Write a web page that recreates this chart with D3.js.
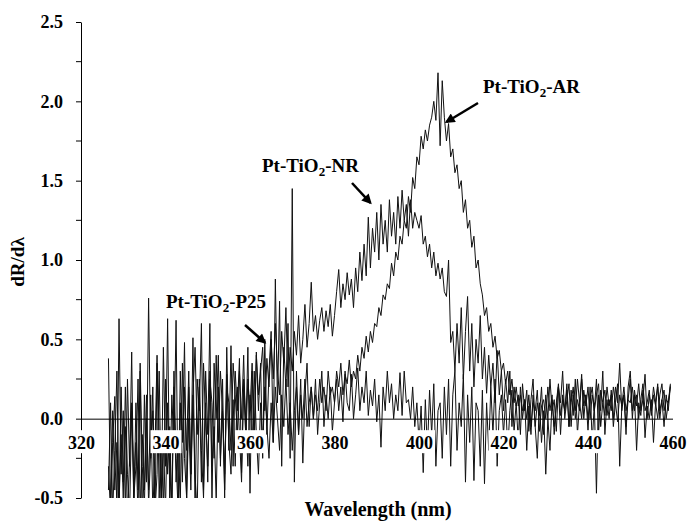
<!DOCTYPE html>
<html>
<head>
<meta charset="utf-8">
<script src="https://cdn.jsdelivr.net/npm/d3@7"></script>
<style>
  body { margin: 0; background: #fff; }
  svg text { font-family: "Liberation Serif", "Times New Roman", serif; font-weight: bold; fill: #000; }
</style>
</head>
<body>
<svg id="chart"></svg>
<script>
// spectra are sampled every 0.5 nm from their start wavelength
var step = 0.5;

var p25Start = 326.5;
var p25Values = [
  0.38, -0.55, -0.15, 0.14, -0.62, 0.63, -0.35, 0.05, -0.58, 0.25, -0.3, 0.42, -0.6, 0.1, -0.45, 0.3, -0.7, 0.15,
  -0.4, 0.76, -0.25, 0.2, -0.65, 0.35, -0.1, -0.55, 0.45, -0.3,
  0.63, -0.5, 0.15, -0.2, 0.62, -0.6, 0.3, -0.15, 0.48, -0.52,
  0.2, -0.35, 0.51, -0.6, 0.25, 0.05, 0.6, -0.45, 0.3, -0.1,
  0.6, -0.55, 0.35, 0.0, 0.4, -0.3, 0.25, -0.5, 0.45, -0.2,
  0.46, -0.3, 0.3, 0.05, 0.38, -0.34, 0.2, -0.1, 0.45, -0.47,
  0.3, -0.2, 0.42, 0.05, 0.35, -0.25, 0.5, -0.1, 0.3, 0.55,
  -0.15, 0.88, 0.1, 0.74, -0.3, 0.45, 0.2, 0.6, -0.25, 1.45,
  -0.4, 0.3, -0.1, 0.25, -0.28, 0.15, 0.35, -0.05, 0.2, 0.0,
  0.25, -0.1, 0.1, 0.3, -0.05, 0.15, 0.0, 0.2, -0.08, 0.1,
  0.25, 0.05, 0.2, -0.02, 0.3, 0.1, 0.05, 0.28, 0.0, 0.15,
  0.32, 0.05, 0.2, 0.1, 0.3, 0.02, 0.18, 0.08, 0.25, -0.02,
  0.15, -0.18, 0.2, 0.05, 0.3, 0.1, 0.22, 0.0, 0.15, 0.05,
  0.29, 0.02, 0.3, 0.1, 0.12, 0.0, 0.2, -0.05, 0.1, -0.15,
  0.08, -0.34, 0.12, -0.2, 0.18, -0.1, 0.22, -0.3, 0.05, 0.1,
  -0.25, 0.2, -0.1, 0.25, -0.3, 0.15, 0.3, -0.2, 0.1, -0.05,
  0.28, -0.4, 0.15, -0.15, 0.2, -0.39, 0.1, 0.05, -0.3, 0.18,
  -0.41, 0.1, -0.2, 0.2, -0.1, 0.25, -0.3, 0.05, 0.15, -0.1,
  0.12, -0.2, 0.05, 0.18, -0.08, 0.1, -0.15, 0.2, 0.0, 0.12,
  -0.2, 0.08, -0.1, 0.15, -0.05, -0.25, 0.1, -0.15, 0.05, -0.35,
  0.0, -0.2, 0.12, -0.05, 0.08, 0.2, -0.1, 0.15, 0.05, 0.22,
  -0.05, 0.18, 0.02, 0.25, -0.1, 0.1, 0.28, 0.0, 0.15, -0.08,
  0.2, -0.15, 0.1, -0.47, 0.15, 0.05, 0.3, -0.1, 0.12, 0.0,
  0.18, -0.05, 0.1, 0.22, -0.3, 0.08, 0.15, -0.1, 0.2, 0.3,
  0.05, 0.15, -0.2, 0.1, 0.02, 0.18, -0.12, 0.08, 0.0, 0.12,
  -0.15, 0.1, 0.22, 0.0, 0.12, -0.05, 0.15, 0.05, 0.21
];

var nrStart = 326.5;
var nrValues = [
  -0.45, 0.1, -0.6, -0.2, 0.3, -0.55, -0.1, -0.5, 0.2, -0.35,
  -0.6, 0.05, -0.4, -0.15, -0.62, 0.35, -0.3, -0.55, 0.0, -0.45,
  0.15, -0.6, -0.2, 0.4, -0.5, -0.1, -0.58, 0.25, -0.35, -0.05,
  -0.55, 0.3, -0.25, -0.6, 0.1, -0.4, 0.2,
  -0.2, 0.3, -0.35, 0.15, 0.45, -0.1, 0.2, -0.4, 0.35, 0.0,
  -0.3, 0.25, 0.1, -0.25, 0.4, -0.15, 0.3, 0.05, -0.35, 0.2,
  0.1, -0.2, 0.35, 0.15, -0.1, 0.3, 0.0, 0.4, -0.15, 0.25,
  0.05, 0.35, -0.1, 0.4, 0.15, 0.3, 0.45, 0.05, 0.38, 0.2,
  0.5, 0.25, 0.6, 0.3, 0.15, 0.55, 0.35, 0.7, 0.2, 0.45,
  0.3, 0.55, 0.4, 0.65, 0.35, 0.5, 0.72, 0.45, 0.6, 0.86,
  0.55, 0.65, 0.5, 0.62, 0.7, 0.55, 0.68, 0.58, 0.72, 0.52,
  0.65, 0.8, 0.94, 0.7, 0.85, 0.75, 0.92, 0.78, 0.88, 0.7,
  0.95, 0.8, 1.05, 0.87, 1.1, 0.9, 1.27, 0.95, 1.2, 1.05,
  1.3, 1.0, 1.35, 1.1, 1.25, 1.05, 1.38, 1.15, 1.3, 1.1,
  1.4, 1.2, 1.44, 1.25, 1.35, 1.15, 1.38, 1.2, 1.3, 1.25,
  1.2, 1.28, 1.1, 1.15, 1.02, 1.1, 0.95, 1.05, 0.9, 0.98,
  0.88, 0.95, 0.8, 0.77, 1.0, 0.48, 0.55, 0.3, 0.6, 0.35,
  0.7, 0.25, 0.55, 0.77, 0.3, 0.6, 0.2, 0.5, 0.35, 0.65,
  0.25, 0.45, 0.16, 0.4, 0.2, 0.35, 0.1, 0.43, 0.15, 0.3,
  0.05, 0.25, 0.1, 0.3, -0.05, 0.2, 0.08, 0.15, -0.1, 0.22,
  0.05, 0.18, -0.08, 0.12, 0.25, -0.05, 0.1, 0.02, 0.2, -0.1,
  0.15, 0.0, 0.25, 0.05, 0.12, -0.08, 0.2, 0.1, 0.3, 0.0,
  0.12, 0.22, -0.05, 0.15, 0.05, 0.25, 0.1, 0.0, 0.18, 0.08,
  0.2, 0.0, 0.15, 0.05, 0.25, -0.1, 0.18, 0.1, 0.02, 0.2,
  0.08, 0.15, 0.0, 0.2, 0.1, 0.35, 0.05, 0.15, -0.05, 0.12,
  0.25, 0.0, 0.18, 0.08, 0.22, 0.05, 0.12, 0.28, 0.0, 0.15,
  0.05, 0.2, 0.1, 0.0, 0.15, 0.22, 0.05, 0.12, 0.1, 0.2
];

var arStart = 326.5;
var arValues = [
  -0.3, -0.6, 0.05, -0.45, -0.15, -0.58, 0.2, -0.4, -0.05, -0.62,
  -0.25, 0.1, -0.5, -0.3, 0.25, -0.6, -0.1, -0.45, 0.15, -0.55,
  -0.2, 0.05, -0.6, -0.35, 0.3, -0.5, -0.15, -0.58, 0.1, -0.3,
  -0.6, 0.2, -0.4, -0.1, -0.55, 0.35, -0.25, -0.5, 0.0, -0.45,
  0.15, -0.35, -0.6, 0.25, -0.2, -0.5, 0.1, -0.4, 0.3, -0.3,
  -0.05, -0.52, 0.2, -0.25, 0.05, -0.45, 0.28, -0.15, -0.35, 0.12,
  -0.3, 0.2, -0.1, -0.4, 0.25, 0.0, -0.3, 0.15, -0.2, 0.3,
  -0.1, -0.35, 0.1, -0.2, 0.2, -0.05, -0.25,
  0.1, -0.15, 0.2, 0.0, -0.2, 0.15, -0.05, 0.25, -0.1, 0.1,
  -0.2, 0.05, 0.2, -0.1, 0.15, 0.0, 0.25, -0.05, 0.1, 0.2,
  0.0, 0.15, 0.05, 0.25, 0.1, 0.2, 0.05, 0.3, 0.15, 0.2,
  0.1, 0.3, 0.2, 0.35, 0.15, 0.28, 0.22, 0.37, 0.2, 0.3,
  0.25, 0.4, 0.3, 0.45, 0.38, 0.52, 0.42, 0.55, 0.48, 0.6,
  0.58, 0.7, 0.65, 0.78, 0.75, 0.85, 0.82, 0.98, 0.9, 1.05,
  1.0, 1.15, 1.1, 1.25, 1.2, 1.4, 1.3, 1.52, 1.45, 1.65,
  1.6, 1.78, 1.7, 1.82, 1.75, 1.85, 1.9, 2.0, 1.88, 2.18,
  1.72, 2.13, 1.9, 1.75, 1.86, 1.65, 1.7, 1.55, 1.6, 1.45,
  1.5, 1.3, 1.38, 1.2, 1.25, 1.08, 1.15, 0.95, 1.0, 0.85,
  0.78, 0.65, 0.7, 0.55, 0.6, 0.45, 0.52, 0.38, 0.43, 0.3,
  0.35, 0.22, 0.3, 0.15, 0.25, 0.1, 0.2, 0.08, 0.15, 0.05,
  0.12, 0.0, 0.15, -0.05, 0.1, 0.05, 0.18, -0.08, 0.08, 0.12,
  0.0, 0.2, 0.05, 0.15, -0.1, 0.1, 0.22, 0.02, 0.12, 0.05,
  0.18, -0.05, 0.1, 0.2, 0.0, 0.12, 0.05, 0.25, 0.08, 0.15,
  0.0, 0.12, 0.2, 0.05, 0.15, 0.22, -0.05, 0.1, 0.18, 0.02,
  0.12, 0.05, 0.2, 0.1, -0.02, 0.15, 0.08, 0.2, 0.05, 0.12,
  0.1, 0.2, 0.05, 0.15, 0.0, 0.12, 0.22, 0.05, 0.1, 0.18,
  0.02, 0.15, 0.08, 0.2, 0.05, 0.12, 0.18, 0.0, 0.1, 0.22
];

var xTicks = [320, 340, 360, 380, 400, 420, 440, 460];
var yTicks = [-0.5, 0.0, 0.5, 1.0, 1.5, 2.0, 2.5];
var yMinorTicks = [-0.25, 0.25, 0.75, 1.25, 1.75, 2.25];

var labels = [
  { name: 'P25', at: 363.5, v: 0.48, tx: 166, ty: 308, ax: [245, 325] },
  { name: 'NR', at: 388.5, v: 1.36, tx: 262, ty: 172, ax: [352, 183] },
  { name: 'AR', at: 406.5, v: 1.87, tx: 483, ty: 93, ax: [478, 103] }
];

var width = 688, height = 522;
var svg = d3.select('#chart')
    .attr('width', width)
    .attr('height', height);

var xScale = d3.scaleLinear().domain([320, 460]).range([81, 672.5]);
var yScale = d3.scaleLinear().domain([-0.5, 2.5]).range([498, 22]);

svg.append('defs').append('clipPath')
    .attr('id', 'plotClip')
    .append('rect')
    .attr('x', 81).attr('y', 22)
    .attr('width', 672.5 - 81).attr('height', 498 - 22);

var marker = svg.select('defs').append('marker')
    .attr('id', 'arrowHead')
    .attr('viewBox', '0 0 10 10')
    .attr('refX', 8).attr('refY', 5)
    .attr('markerWidth', 4.5).attr('markerHeight', 4)
    .attr('markerUnits', 'strokeWidth')
    .attr('orient', 'auto');
marker.append('path').attr('d', 'M0,0 L10,5 L0,10 z').attr('fill', '#000');

// spectra
var series = [
  { start: p25Start, values: p25Values },
  { start: nrStart, values: nrValues },
  { start: arStart, values: arValues }
];
var plot = svg.append('g').attr('clip-path', 'url(#plotClip)');
series.forEach(function (s) {
  var line = d3.line()
      .x(function (d, i) { return xScale(s.start + i * step); })
      .y(function (d) { return yScale(d); });
  plot.append('path')
      .datum(s.values)
      .attr('d', line)
      .attr('fill', 'none')
      .attr('stroke', '#111')
      .attr('stroke-width', 1);
});

// y axis
var fmt = d3.format('.1f');
var yAxis = svg.append('g')
    .attr('transform', 'translate(81,0)')
    .call(d3.axisLeft(yScale).tickValues(yTicks)
        .tickFormat(function (d) { return fmt(d).replace('\u2212', '-'); })
        .tickSize(5).tickSizeOuter(0).tickPadding(13));
yAxis.selectAll('text').style('font-size', '18px');
yAxis.append('g').selectAll('line')
    .data(yMinorTicks)
    .enter().append('line')
    .attr('x1', -5).attr('x2', 0)
    .attr('y1', function (d) { return yScale(d); })
    .attr('y2', function (d) { return yScale(d); })
    .attr('stroke', '#000');
yAxis.selectAll('path, line').attr('stroke', '#000');

// x axis along zero, labels boxed in white over the data
var xAxis = svg.append('g')
    .attr('transform', 'translate(0,' + yScale(0) + ')')
    .call(d3.axisBottom(xScale).tickValues(xTicks).tickSize(0).tickSizeOuter(0).tickPadding(18));
xAxis.select('.domain').attr('stroke', '#000');
xAxis.selectAll('.tick text').style('font-size', '18px');
xAxis.selectAll('.tick').each(function () {
  var tick = d3.select(this);
  var box = tick.select('text').node().getBBox();
  tick.insert('rect', 'text')
      .attr('x', box.x - 2).attr('y', 11.5)
      .attr('width', box.width + 4).attr('height', 23)
      .attr('fill', '#fff');
});

// axis titles
svg.append('text')
    .attr('x', 378).attr('y', 516)
    .style('text-anchor', 'middle')
    .style('font-size', '20px')
    .text('Wavelength (nm)');
svg.append('text')
    .attr('transform', 'translate(24,262) rotate(-90)')
    .style('text-anchor', 'middle')
    .style('font-size', '19px')
    .text('dR/dλ');

// sample labels and arrows
labels.forEach(function (d) {
  var t = svg.append('text')
      .attr('x', d.tx).attr('y', d.ty)
      .style('font-size', '19px');
  t.append('tspan').text('Pt-TiO');
  t.append('tspan').attr('dy', 4).style('font-size', '13px').text('2');
  t.append('tspan').attr('dy', -4).text('-' + d.name);
  svg.append('line')
      .attr('x1', d.ax[0]).attr('y1', d.ax[1])
      .attr('x2', xScale(d.at)).attr('y2', yScale(d.v))
      .attr('stroke', '#000')
      .attr('stroke-width', 2.5)
      .attr('marker-end', 'url(#arrowHead)');
});
</script>
</body>
</html>
